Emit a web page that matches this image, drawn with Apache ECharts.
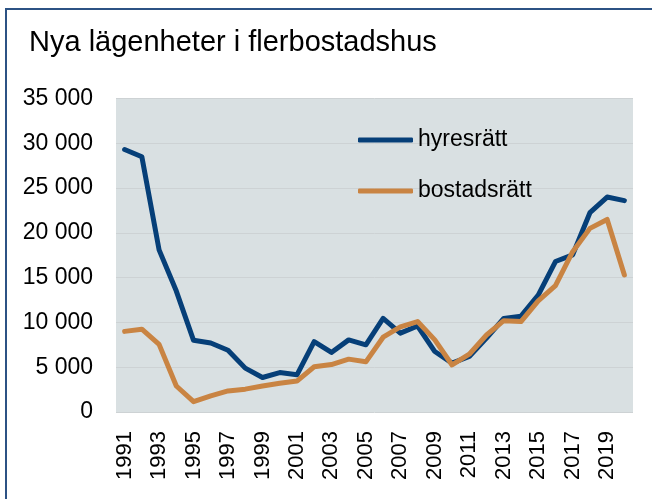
<!DOCTYPE html>
<html>
<head>
<meta charset="utf-8">
<script src="https://cdn.jsdelivr.net/npm/echarts@6/dist/echarts.min.js"></script>
<style>
  html, body { margin: 0; padding: 0; background: #fff; overflow: hidden; }
  #chart { width: 652px; height: 499px; }
</style>
</head>
<body>
<div id="chart"></div>
<script>
var years = ['1991','1992','1993','1994','1995','1996','1997','1998','1999','2000',
             '2001','2002','2003','2004','2005','2006','2007','2008','2009','2010',
             '2011','2012','2013','2014','2015','2016','2017','2018','2019','2020'];
var hyresratt = [29300, 28500, 18100, 13500, 8000, 7700, 6900, 4900, 3850, 4400,
                 4150, 7850, 6650, 8050, 7500, 10450, 8800, 9600, 6750, 5450,
                 6200, 8250, 10450, 10700, 13050, 16800, 17550, 22250, 24000, 23600];
var bostadsratt = [9000, 9250, 7550, 2900, 1150, 1800, 2350, 2550, 2900, 3200,
                   3450, 5050, 5300, 5900, 5600, 8350, 9500, 10100, 8050, 5250,
                   6450, 8600, 10200, 10100, 12400, 14100, 17900, 20500, 21500, 15300];

var font = 'Liberation Sans, Arial, sans-serif';
var chart = echarts.init(document.getElementById('chart'));
chart.setOption({
    // outer frame: only top and left edges are visible in the picture
    graphic: [{
        type: 'polyline',
        shape: { points: [[6, 499], [6, 9], [652, 9]] },
        style: { stroke: '#2c5284', lineWidth: 2, fill: null }
    }],
    title: {
        text: 'Nya lägenheter i flerbostadshus',
        left: 24,
        top: 23,
        textStyle: { fontFamily: font, fontSize: 29, fontWeight: 'normal', color: '#000' }
    },
    legend: {
        orient: 'vertical',
        left: 353,
        top: 123,
        itemWidth: 55,
        itemHeight: 5,
        itemGap: 27,
        icon: 'roundRect',
        textStyle: { fontFamily: font, fontSize: 23, color: '#000', lineHeight: 24 },
        data: ['hyresrätt', 'bostadsrätt']
    },
    grid: {
        left: 116, right: 19, top: 98.5, bottom: 87,
        show: true, backgroundColor: '#d9e0e2', borderWidth: 0
    },
    xAxis: {
        type: 'category',
        data: years,
        boundaryGap: true,
        axisLine: { show: false },
        axisTick: { show: false },
        axisLabel: {
            interval: 1, rotate: 90, margin: 19,
            fontFamily: font, fontSize: 22, color: '#000'
        }
    },
    yAxis: {
        type: 'value',
        min: 0, max: 35000, interval: 5000,
        axisLine: { show: false },
        axisTick: { show: false },
        splitLine: { lineStyle: { color: '#cdd2d4', width: 1 } },
        axisLabel: {
            margin: 23, fontFamily: font, fontSize: 23, color: '#000',
            formatter: function (v) { return v === 0 ? '0' : (v / 1000) + ' 000'; }
        }
    },
    series: [
        {
            name: 'hyresrätt', type: 'line', data: hyresratt,
            symbol: 'none', color: '#063f78',
            lineStyle: { width: 5, cap: 'round', join: 'round' }
        },
        {
            name: 'bostadsrätt', type: 'line', data: bostadsratt,
            symbol: 'none', color: '#c98443',
            lineStyle: { width: 5, cap: 'round', join: 'round' }
        }
    ]
});
</script>
</body>
</html>
